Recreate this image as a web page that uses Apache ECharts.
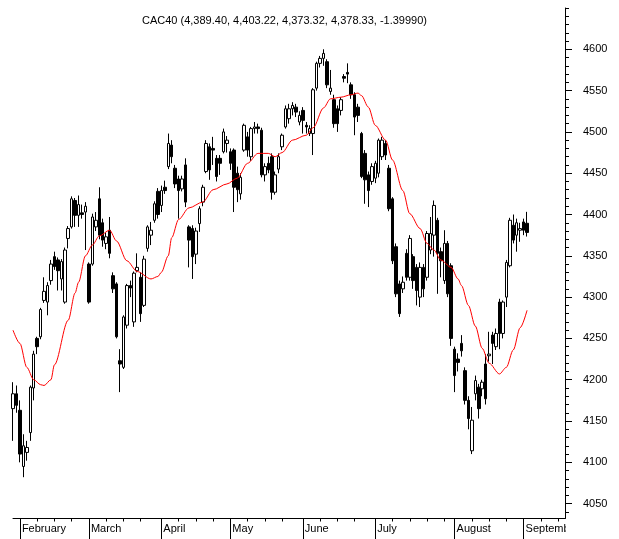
<!DOCTYPE html>
<html><head><meta charset="utf-8">
<script src="https://cdn.jsdelivr.net/npm/echarts@6/dist/echarts.min.js"></script>
<style>html,body{margin:0;padding:0;background:#fff}#c{width:619px;height:539px}</style>
</head><body><div id="c"></div>
<script>
// Trading days shown (Aug 15 missing in source data), then empty slots after the last bar
const tradingDays = {
  '2014-01': [30,31],
  '2014-02': [3,4,5,6,7,10,11,12,13,14,17,18,19,20,21,24,25,26,27,28],
  '2014-03': [3,4,5,6,7,10,11,12,13,14,17,18,19,20,21,24,25,26,27,28,31],
  '2014-04': [1,2,3,4,7,8,9,10,11,14,15,16,17,22,23,24,25,28,29,30],
  '2014-05': [2,5,6,7,8,9,12,13,14,15,16,19,20,21,22,23,26,27,28,29,30],
  '2014-06': [2,3,4,5,6,9,10,11,12,13,16,17,18,19,20,23,24,25,26,27,30],
  '2014-07': [1,2,3,4,7,8,9,10,11,14,15,16,17,18,21,22,23,24,25,28,29,30,31],
  '2014-08': [1,4,5,6,7,8,11,12,13,14,18,19,20,21,22,25,26,27,28,29],
  '2014-09': [1,2,3,4,5,8,9,10,11,12,15,16,17]
};
const monthNames = {'02':'February','03':'March','04':'April','05':'May','06':'June','07':'July','08':'August','09':'September'};

const openS = [4165,4183,4163,4095,4112,4136,4190,4250,4252,4296,
4294,4320,4349,4345,4322,4294,4371,4385,4417,4399,
4402,4403,4340,4340,4385,4419,4390,4365,4381,4326,
4316,4223,4215,4266,4314,4270,4332,4324,4290,4359,
4375,4393,4428,4411,4433,4458,4484,4456,4443,4431,
4460,4385,4383,4352,4389,4415,4452,4482,4480,4468,
4468,4476,4486,4476,4478,4450,4425,4478,4494,4470,
4504,4506,4502,4448,4462,4470,4427,4455,4482,4506,
4516,4528,4530,4512,4526,4508,4498,4498,4553,4583,
4589,4585,4549,4539,4528,4526,4567,4572,4557,4545,
4530,4498,4474,4448,4440,4444,4450,4470,4486,4456,
4419,4361,4316,4310,4353,4324,4349,4336,4300,4336,
4324,4357,4375,4393,4355,4320,4365,4338,4237,4225,
4244,4211,4175,4114,4183,4191,4189,4219,4229,4254,
4240,4294,4256,4300,4338,4387,4375,4381,4391,4389.40];
const closeS = [4183,4169,4110,4120,4118,4191,4231,4240,4285,4307,
4314,4340,4337,4332,4343,4357,4383,4419,4399,4412,
4400,4410,4294,4397,4393,4375,4369,4373,4353,4310,
4252,4219,4276,4314,4311,4329,4336,4280,4346,4385,
4381,4413,4400,4429,4429,4486,4470,4437,4429,4443,
4415,4369,4349,4380,4407,4433,4486,4454,4478,4446,
4462,4500,4490,4462,4433,4430,4445,4508,4478,4504,
4506,4504,4448,4458,4454,4427,4448,4470,4496,4528,
4528,4532,4524,4520,4514,4506,4504,4551,4583,4589,
4595,4557,4553,4510,4510,4539,4565,4570,4545,4518,
4520,4446,4442,4429,4458,4462,4490,4490,4472,4407,
4344,4304,4280,4318,4324,4371,4320,4308,4336,4310,
4377,4377,4411,4353,4344,4365,4304,4250,4205,4221,
4235,4175,4153,4151,4199,4165,4197,4177,4231,4244,
4256,4256,4294,4342,4393,4369,4390,4383,4381,4378.33];
const highS = [4197,4193,4175,4134,4126,4193,4235,4252,4287,4324,
4318,4345,4355,4348,4346,4360,4386,4422,4420,4423,
4412,4415,4342,4401,4403,4433,4395,4378,4397,4330,
4318,4237,4278,4316,4320,4331,4353,4330,4350,4387,
4391,4416,4432,4435,4441,4498,4490,4460,4447,4447,
4468,4387,4387,4384,4410,4436,4490,4486,4494,4472,
4472,4504,4495,4480,4480,4458,4450,4510,4500,4506,
4512,4510,4505,4462,4470,4474,4452,4474,4498,4532,
4534,4536,4534,4525,4530,4512,4508,4553,4585,4592,
4600,4588,4575,4545,4532,4542,4570,4583,4560,4548,
4534,4500,4478,4452,4462,4465,4492,4494,4490,4460,
4421,4365,4320,4325,4358,4375,4352,4340,4342,4340,
4380,4397,4417,4396,4360,4381,4368,4341,4240,4232,
4254,4215,4180,4167,4205,4195,4200,4231,4258,4258,
4262,4298,4296,4345,4396,4400,4395,4390,4395,4403.22];
const lowS = [4126,4160,4100,4082,4102,4126,4175,4231,4249,4293,
4278,4315,4333,4308,4308,4292,4359,4383,4385,4385,
4395,4357,4292,4338,4380,4370,4361,4358,4347,4305,
4250,4185,4213,4262,4300,4264,4330,4270,4288,4355,
4363,4390,4395,4403,4425,4455,4462,4432,4395,4428,
4409,4336,4322,4340,4379,4410,4450,4442,4460,4440,
4448,4474,4475,4454,4403,4415,4418,4476,4470,4465,
4498,4498,4445,4440,4450,4418,4424,4450,4478,4504,
4510,4520,4518,4508,4498,4498,4495,4472,4550,4578,
4580,4553,4545,4505,4500,4520,4560,4559,4540,4496,
4512,4444,4413,4409,4436,4438,4445,4466,4466,4404,
4340,4300,4276,4305,4320,4320,4310,4290,4288,4300,
4320,4352,4349,4304,4324,4316,4300,4241,4185,4210,
4228,4170,4140,4110,4175,4153,4180,4170,4222,4219,
4236,4237,4250,4288,4336,4365,4355,4367,4375,4373.32];

// Moving average line at these bar positions
const maIdx = [0,2,4,6,8,9,11,12,16,18,19,21,23,25,28,30,33,36,40,42,43,45,46,48,51,55,58,62,65,68,71,74,76,78,81,85,87,90,92,95,98,100,101,103,105,108,110,113,115,118,120,122,124,127,129,130,132,134,136,138,141,143,145,147,149];
const maVal = [4260,4244,4215,4200,4194,4193,4200,4218,4272,4305,4318,4350,4363,4374,4381,4368,4344,4331,4322,4325,4330,4350,4372,4394,4408,4415,4430,4437,4444,4462,4474,4474,4470,4475,4490,4496,4505,4529,4540,4542,4545,4547,4544,4530,4508,4490,4466,4429,4401,4383,4365,4357,4345,4336,4322,4314,4290,4265,4238,4220,4207,4215,4236,4263,4284];

const yTickLabels = [4050,4100,4150,4200,4250,4300,4350,4400,4450,4500,4550,4600];
const titleText = 'CAC40 (4,389.40, 4,403.22, 4,373.32, 4,378.33, -1.39990)';

const categories = [];
for (const m in tradingDays) for (const d of tradingDays[m]) categories.push(m + '-' + String(d).padStart(2, '0'));

const monthStarts = [];
for (let i = 1; i < categories.length; i++) if (categories[i].slice(5,7) !== categories[i-1].slice(5,7)) monthStarts.push(i);
const majorSet = new Set(monthStarts);
const minorSet = new Set();
monthStarts.forEach((s, k) => {
  const n = k + 1 < monthStarts.length ? monthStarts[k+1] : Infinity;
  for (let t = s + 5; t + 2 < n && t < categories.length; t += 5) minorSet.add(t);
});
const minorY = [];
for (let v = 4040; v <= 4650; v += 10) minorY.push(v);

const FONT = 'Liberation Sans, Arial, sans-serif';
const chart = echarts.init(document.getElementById('c'), null, {renderer: 'canvas'});
chart.setOption({
  animation: false,
  backgroundColor: '#fff',
  title: {text: titleText, left: 142, top: 15, padding: 0,
    textStyle: {fontSize: 11, fontWeight: 'normal', color: '#000', fontFamily: FONT}},
  grid: {left: 13, right: 54, top: 8, bottom: 20.5},
  // the month label that runs past the plot's right edge is clipped there, as in the original
  graphic: [{type: 'rect', z: 100, silent: true,
    shape: {x: 566, y: 519, width: 16, height: 20}, style: {fill: '#fff'}}],
  xAxis: [{
    type: 'category', data: categories, boundaryGap: false, position: 'bottom',
    axisLine: {show: true, lineStyle: {color: '#000', width: 1}},
    axisTick: {show: true, length: 21, interval: (i) => majorSet.has(i), lineStyle: {color: '#000'}},
    axisLabel: {show: true, interval: (i) => majorSet.has(i), hideOverlap: false,
      formatter: (v, i) => majorSet.has(i) ? monthNames[v.slice(5,7)] : '',
      align: 'left', margin: 5, padding: [0,0,0,2],
      fontSize: 11, color: '#000', fontFamily: FONT, width: 47, overflow: 'truncate', ellipsis: ''},
    splitLine: {show: false}
  }, {
    type: 'category', data: categories, boundaryGap: false, position: 'bottom',
    axisLine: {show: false},
    axisTick: {show: true, length: 3, interval: (i) => minorSet.has(i), lineStyle: {color: '#000'}},
    axisLabel: {show: false}, splitLine: {show: false}
  }],
  yAxis: [{
    type: 'value', position: 'right', min: 4032, max: 4650, scale: true,
    axisLine: {show: true, lineStyle: {color: '#000', width: 1}},
    axisTick: {show: true, length: 7, customValues: yTickLabels, lineStyle: {color: '#000'}},
    axisLabel: {show: true, customValues: yTickLabels, formatter: (v) => String(v), margin: 18,
      fontSize: 11, color: '#000', fontFamily: FONT},
    splitLine: {show: false}
  }, {
    type: 'value', position: 'right', min: 4032, max: 4650, scale: true,
    axisLine: {show: false},
    axisTick: {show: true, length: 4, customValues: minorY, lineStyle: {color: '#000'}},
    axisLabel: {show: false}, splitLine: {show: false}
  }],
  series: [{
    type: 'candlestick', xAxisIndex: 0, yAxisIndex: 0, clip: false,
    barWidth: 3,
    data: openS.map((o, k) => [o, closeS[k], lowS[k], highS[k]]),
    itemStyle: {color: '#fff', color0: '#000', borderColor: '#000', borderColor0: '#000', borderWidth: 1},
    emphasis: {disabled: true}
  }, {
    type: 'line', xAxisIndex: 0, yAxisIndex: 0, z: 3,
    data: maIdx.map((d, k) => [d, maVal[k]]),
    smooth: 0.3, smoothMonotone: 'x', showSymbol: false, silent: true,
    lineStyle: {color: '#ff0000', width: 1}
  }]
});
</script></body></html>
